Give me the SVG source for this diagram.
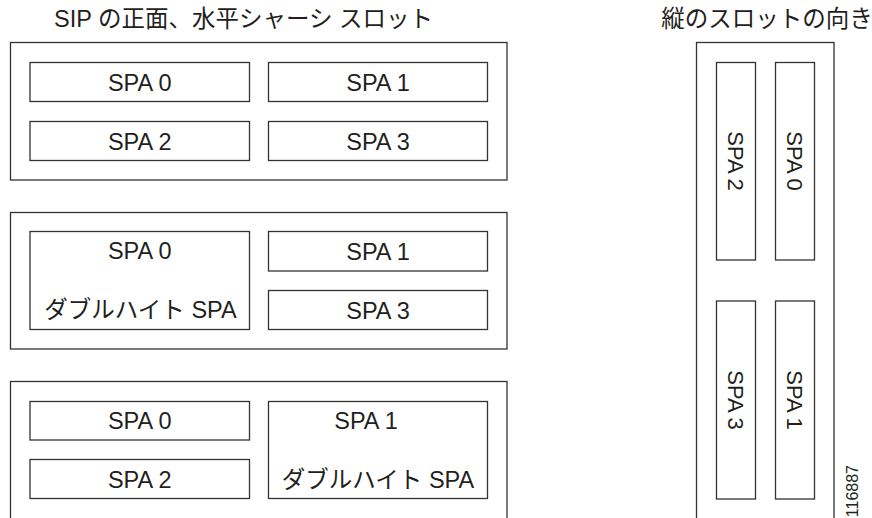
<svg xmlns="http://www.w3.org/2000/svg" width="872" height="518" viewBox="0 0 872 518">
<style>
.box{fill:#fff;stroke:#333;stroke-width:1.3}
.t{font-family:"Liberation Sans","Noto Sans CJK JP",Arial,sans-serif;font-size:23.5px;fill:#231f20;text-anchor:middle}
.v{font-size:22px}
.title{font-family:"Liberation Sans","Noto Sans CJK JP",Arial,sans-serif;font-size:23.5px;fill:#231f20;text-anchor:middle}
.num{font-family:"Liberation Sans",Arial,sans-serif;font-size:16px;fill:#231f20;text-anchor:end}
</style>
<rect width="872" height="518" fill="#fff"/>
<text class="title" x="243.5" y="27">SIP の正面、水平シャーシ スロット</text>
<text class="title" x="767" y="27">縦のスロットの向き</text>

<g id="chassis1">
<rect class="box" x="10.5" y="42.5" width="496.5" height="137.5"/>
<g id="c1-spa0"><rect class="box" x="30" y="62.5" width="219.5" height="39"/><text class="t" x="139.7" y="91">SPA 0</text></g>
<g id="c1-spa1"><rect class="box" x="268.5" y="62.5" width="219" height="39"/><text class="t" x="378" y="91">SPA 1</text></g>
<g id="c1-spa2"><rect class="box" x="30" y="121.5" width="219.5" height="39"/><text class="t" x="139.7" y="149.5">SPA 2</text></g>
<g id="c1-spa3"><rect class="box" x="268.5" y="121.5" width="219" height="39"/><text class="t" x="378" y="149.5">SPA 3</text></g>
</g>

<g id="chassis2">
<rect class="box" x="10.5" y="212.5" width="496.5" height="136.5"/>
<g id="c2-spa0"><rect class="box" x="30" y="231.5" width="219.5" height="98"/><text class="t" x="139.7" y="259">SPA 0</text><text class="t" x="140.5" y="318">ダブルハイト SPA</text></g>
<g id="c2-spa1"><rect class="box" x="268.5" y="231.5" width="219" height="39.5"/><text class="t" x="378" y="260">SPA 1</text></g>
<g id="c2-spa3"><rect class="box" x="268.5" y="290.5" width="219" height="39"/><text class="t" x="378" y="318.5">SPA 3</text></g>
</g>

<g id="chassis3">
<rect class="box" x="10.5" y="381.5" width="496.5" height="150"/>
<g id="c3-spa0"><rect class="box" x="30" y="401.5" width="219.5" height="38.5"/><text class="t" x="139.7" y="429">SPA 0</text></g>
<g id="c3-spa2"><rect class="box" x="30" y="459.5" width="219.5" height="39"/><text class="t" x="139.7" y="488">SPA 2</text></g>
<g id="c3-spa1"><rect class="box" x="268.5" y="401.5" width="219" height="97"/><text class="t" x="366" y="428.5">SPA 1</text><text class="t" x="378" y="488">ダブルハイト SPA</text></g>
</g>

<g id="vertical">
<rect class="box" x="696.5" y="42.5" width="137.5" height="490"/>
<g id="v-spa2"><rect class="box" x="716.5" y="62.5" width="39" height="197.5"/><text class="t v" transform="translate(735.5,161) rotate(90)" y="8">SPA 2</text></g>
<g id="v-spa0"><rect class="box" x="775.5" y="62.5" width="39" height="197.5"/><text class="t v" transform="translate(794.5,161) rotate(90)" y="8">SPA 0</text></g>
<g id="v-spa3"><rect class="box" x="716.5" y="301" width="39" height="198"/><text class="t v" transform="translate(735.5,400) rotate(90)" y="8">SPA 3</text></g>
<g id="v-spa1"><rect class="box" x="775.5" y="301" width="39" height="198"/><text class="t v" transform="translate(794.5,400) rotate(90)" y="8">SPA 1</text></g>
</g>

<text class="num" transform="translate(858,465) rotate(-90)">116887</text>
<g id="connectors"></g>
</svg>
